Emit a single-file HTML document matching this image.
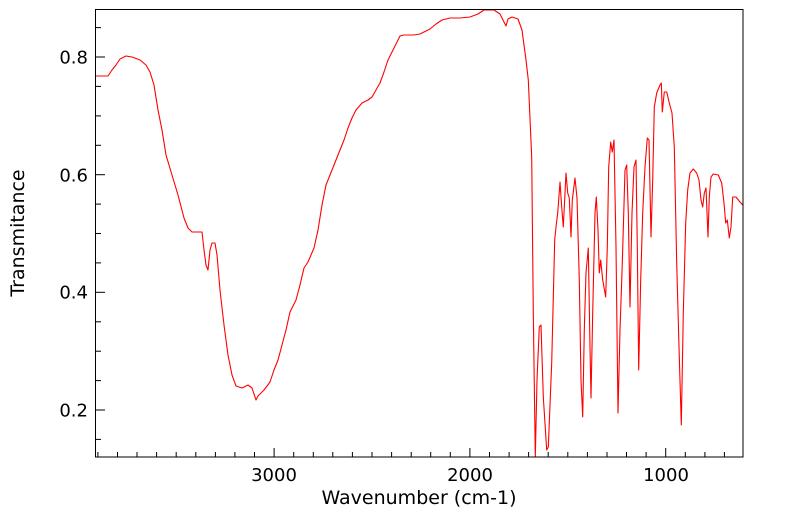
<!DOCTYPE html>
<html><head><style>body{margin:0;background:#fff}svg{display:block}text{font-family:"DejaVu Sans","Liberation Sans",sans-serif;fill:#000}</style></head>
<body>
<svg width="799" height="516" viewBox="0 0 799 516" xmlns="http://www.w3.org/2000/svg">
<rect x="0" y="0" width="799" height="516" fill="#fff"/>
<g id="ticks" stroke="#000" stroke-width="1"></g>
<polyline fill="none" stroke="#ff0000" stroke-width="1.1" stroke-linejoin="round" points="
96,76 108,76 112,70 116,65 120,59 126,56 132,57 140,60 146,65 150,72 154,85 158,110 162,130 166,155 172,175 178,195 184,218 188,228 192,232 202,232 204,250 206,265 208,270 210,250 212,243 215,243 217,255 220,290 224,325 228,355 232,375 236,386 242,388 248,385 252,388 256,400 258,396 264,390 270,382 274,370 278,360 282,345 286,330 290,312 296,300 300,285 304,268 308,262 314,248 318,230 322,205 326,185 330,175 334,165 340,150 344,140 348,128 352,118 356,110 362,103 368,100 372,97 376,90 380,83 384,72 388,60 392,52 396,44 400,36 404,35 414,35 420,34 424,32 430,29 436,24 442,20 450,18 460,18 470,17 478,14 484,10 494,10 500,14 504,22 506,26 508,19 512,17 518,19 522,30 526,60 528.3,80 531.7,157 533.3,313 535.3,457 537,380 539.3,327 541,325 543.3,397 546.7,450 548.3,447 551.7,363 554.7,240 556,227 557.7,213 560,182 561.7,207 563.3,227 564.3,207 566,173 567.7,193 569.3,198 571,237 572.3,200 575,178 577,198 579.3,280 581,380 582.7,417 584.3,330 586,273 588.3,248 590,347 591,398 592.7,313 595,213 596.3,197 598,230 599.3,273 600.7,260 602.7,280 605.7,297 607.3,247 608.7,167 610.7,142 612.3,152 614,140 616,247 618,413 620,330 622.3,263 625,170 626.7,165 628.3,213 630,307 632,213 634,167 636,160 637.3,247 638.7,370 640.7,280 642.7,213 645,167 647.3,138 649,140 651,237 652.7,180 654.3,107 656.7,93 660,85 661.3,83 662.3,112 664.3,92 666.7,92 669.3,103 672,113 674.3,147 676.7,263 679,347 681.3,425 683.3,313 685.7,223 687.7,190 690,173 693.3,169 696.7,173 699,180 701,200 702.7,207 704.3,193 706,188 708,237 709.3,197 711,177 713.3,174 718.3,175 721.7,183 724,203 725.7,223 727.3,220 729.3,238 731,227 732.7,197 736,197 740,202 742.7,205"/>
<rect x="95.5" y="9.5" width="647.5" height="447.5" fill="none" stroke="#000" stroke-width="1"/>
<text x="88" y="63.5" font-size="18" text-anchor="end">0.8</text>
<text x="88" y="181.5" font-size="18" text-anchor="end">0.6</text>
<text x="88" y="298.5" font-size="18" text-anchor="end">0.4</text>
<text x="88" y="416.5" font-size="18" text-anchor="end">0.2</text>
<text x="274" y="481" font-size="18" text-anchor="middle">3000</text>
<text x="470" y="481" font-size="18" text-anchor="middle">2000</text>
<text x="666" y="481" font-size="18" text-anchor="middle">1000</text>
<text x="419" y="504" font-size="19" text-anchor="middle">Wavenumber (cm-1)</text>
<text x="24" y="233" font-size="19" text-anchor="middle" transform="rotate(-90 24 233)">Transmitance</text>
</svg>
<script>
var g=document.getElementById('ticks'),s='';
for(var w=700;w<=3900;w+=100){var x=665.7+(1000-w)*0.1958;if(x<96||x>743)continue;var L=(w%1000==0)?9:5;s+='<line x1="'+x.toFixed(1)+'" y1="457" x2="'+x.toFixed(1)+'" y2="'+(457-L)+'"/>';}
for(var i=3;i<=17;i++){var v=i*0.05;var y=410-(v-0.2)*588.3;if(y<10||y>457)continue;var L=(i%4==0)?9:5;s+='<line x1="96" y1="'+y.toFixed(1)+'" x2="'+(96+L)+'" y2="'+y.toFixed(1)+'"/>';}
g.innerHTML=s;
</script>
</body></html>
